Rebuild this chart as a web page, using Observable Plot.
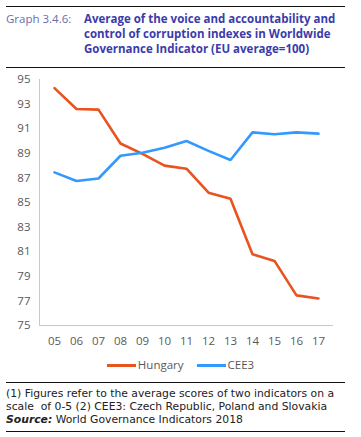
<!DOCTYPE html>
<html>
<head>
<meta charset="utf-8">
<script src="https://cdn.jsdelivr.net/npm/d3@7"></script>
<script src="https://cdn.jsdelivr.net/npm/@observablehq/plot@0.6"></script>
<style>
  html, body { margin: 0; padding: 0; background: #fff; }
  body { width: 361px; font-family: "Open Sans", sans-serif; }
  .head { margin: 6px 16px 0 6px; border-top: 1.6px solid #111; border-bottom: 1.6px solid #111; padding: 4px 0 11px 0; display: flex; }
  .head .lab { color: #6b6ba8; font-size: 11.5px; width: 78px; flex: none; line-height: 15px; }
  .head .ttl { color: #3b3bab; font-size: 11.5px; font-weight: bold; line-height: 15px; white-space: nowrap; }
  .legend { display: flex; justify-content: center; gap: 13px; font-size: 11.5px; color: #595959; height: 18px; align-items: center; margin-top: 3px; }
  .legend span.sw { display: inline-block; width: 29px; height: 3px; vertical-align: middle; margin-right: 2px; }
  .foot { margin: 9px 16px 0 6px; border-top: 1.6px solid #111; border-bottom: 1.6px solid #111; padding: 4px 0 5px 0; font-family: "DejaVu Sans", sans-serif; font-size: 10.8px; color: #222; line-height: 13px; white-space: nowrap; }
</style>
</head>
<body>
<div class="head"><div class="lab">Graph 3.4.6:</div><div class="ttl">Average of the voice and accountability and<br>control of corruption indexes in Worldwide<br>Governance Indicator (EU average=100)</div></div>
<div id="chart"></div>
<div class="legend" id="legend"></div>
<div class="foot">(1) Figures refer to the average scores of two indicators on a<br>scale&nbsp; of 0-5 (2) CEE3: Czech Republic, Poland and Slovakia<br><b><i>Source:</i></b> World Governance Indicators 2018</div>
<script>
const years = ["05","06","07","08","09","10","11","12","13","14","15","16","17"];
const hungary = [94.3, 92.6, 92.55, 89.8, 88.95, 88.0, 87.75, 85.8, 85.3, 80.8, 80.25, 77.45, 77.2];
const cee3 = [87.45, 86.75, 86.95, 88.8, 89.05, 89.45, 90.0, 89.2, 88.45, 90.7, 90.55, 90.7, 90.6];
const seriesNames = ["Hungary", "CEE3"];
const seriesColors = ["#E8531F", "#3399FF"];
const yTicks = [75, 77, 79, 81, 83, 85, 87, 89, 91, 93, 95];

const data = [];
years.forEach((y, i) => {
  data.push({year: y, value: hungary[i], series: "Hungary"});
  data.push({year: y, value: cee3[i], series: "CEE3"});
});

const chart = Plot.plot({
  width: 361,
  height: 284,
  marginLeft: 39,
  marginRight: 29,
  marginTop: 11,
  marginBottom: 27,
  style: {fontFamily: "Open Sans, sans-serif", fontSize: "11px", color: "#595959", background: "#fff"},
  x: {type: "point", domain: years, padding: 0.46, label: null},
  y: {domain: [75, 95], ticks: yTicks, label: null},
  color: {domain: seriesNames, range: seriesColors},
  marks: [
    Plot.axisY({ticks: yTicks, tickSize: 0, tickPadding: 9, label: null, fontSize: 11.5}),
    Plot.axisX({tickSize: 0, tickPadding: 11, label: null, fontSize: 11.5}),
    Plot.frame({anchor: "left", stroke: "#c8c8c8"}),
    Plot.frame({anchor: "bottom", stroke: "#c8c8c8"}),
    Plot.line(data, {x: "year", y: "value", z: "series", stroke: "series", strokeWidth: 2.6, strokeLinejoin: "miter"})
  ]
});
document.getElementById("chart").appendChild(chart);

const leg = document.getElementById("legend");
seriesNames.forEach((n, i) => {
  const d = document.createElement("div");
  d.innerHTML = `<span class="sw" style="background:${seriesColors[i]}"></span>${n}`;
  leg.appendChild(d);
});
</script>
</body>
</html>
